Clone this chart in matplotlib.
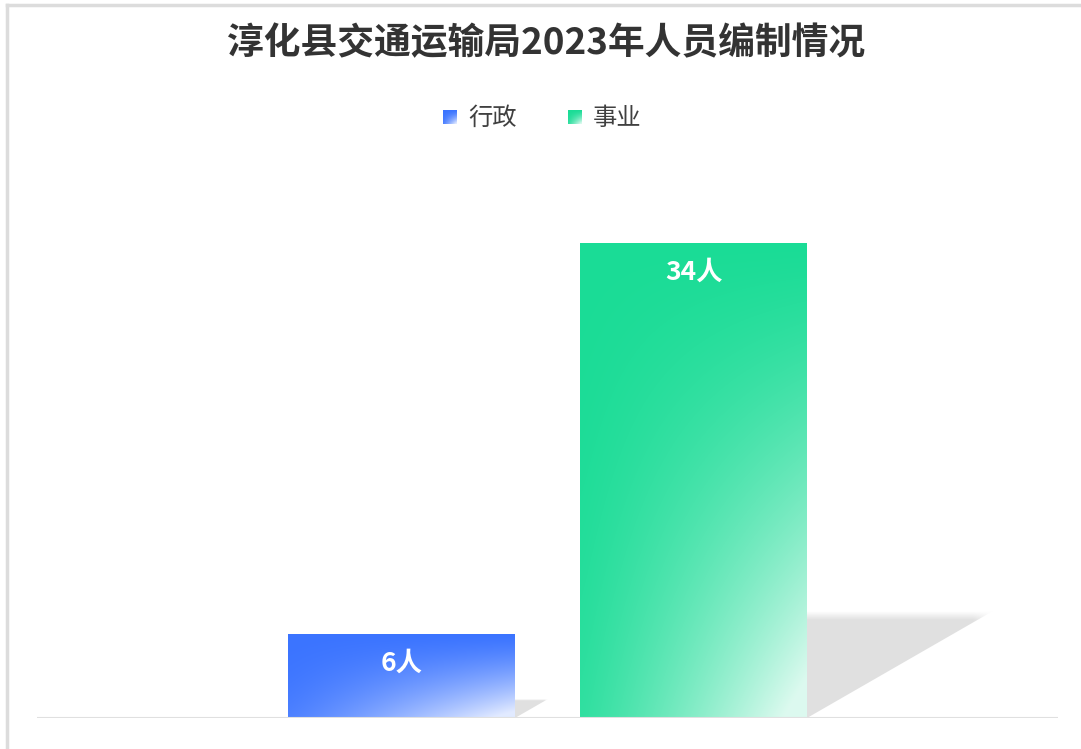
import numpy as np
import matplotlib
matplotlib.use("Agg")
import matplotlib.pyplot as plt
from matplotlib.patches import Polygon
from matplotlib.colors import to_rgb

plt.rcParams['font.family'] = ['Noto Sans CJK SC', 'DejaVu Sans']

# ---- data ----
title = "淳化县交通运输局2023年人员编制情况"
categories = ["行政", "事业"]
values = [6, 34]
labels = ["6人", "34人"]
colors = ["#3b74ff", "#1adc96"]

W, H = 1081, 749
fig = plt.figure(figsize=(W / 100, H / 100), dpi=100)
fig.patch.set_facecolor("white")

# main axes: pixel box x 37..1058, y (from top) 159..718
ax = fig.add_axes([37 / W, 1 - 718 / H, (1058 - 37) / W, (718 - 159) / H])
ax.set_xlim(-1.248, 2.248)
ax.set_ylim(0, 40)
ax.axis("off")
ax.axhline(0, color="#e0e0e0", lw=1.5, zorder=5)


def grad_img(base, n=200):
    yy, xx = np.mgrid[0:n, 0:n] / (n - 1)
    yf = 1 - yy  # 0 at top, 1 at bottom
    t = np.clip(0.85 * xx ** 1.2 * yf ** 1.3 + 0.1 * yf ** 2, 0, 0.85)
    b = np.array(to_rgb(base))
    img = b[None, None, :] * (1 - t[..., None]) + np.ones(3)[None, None, :] * t[..., None]
    return img


def shadow_img(n=200):
    yy, xx = np.mgrid[0:n, 0:n] / (n - 1)
    a = np.clip((1 - yy) / 0.08, 0, 1)  # fade at top edge
    a = a * np.clip((1 - xx) / 0.15 + 0.3, 0, 1)
    img = np.zeros((n, n, 4))
    img[..., :3] = 0.86
    img[..., 3] = a * 0.85
    return img


bars = ax.bar(range(len(categories)), values, width=0.777, color=colors, zorder=2)
for bar, v, c, lab in zip(bars, values, colors, labels):
    x0, w, h = bar.get_x(), bar.get_width(), bar.get_height()
    # shadow
    sw = 0.0187 * v
    sh = 0.225 * v
    shadow = Polygon([(x0 + w, 0), (x0 + w, sh), (x0 + w + sw, sh)],
                     closed=True, facecolor="none", edgecolor="none")
    ax.add_patch(shadow)
    sim = ax.imshow(shadow_img(), extent=(x0 + w, x0 + w + sw, 0, sh), origin="lower",
                    aspect="auto", zorder=1, interpolation="bilinear")
    sim.set_clip_path(shadow)
    im = ax.imshow(grad_img(c), extent=(x0, x0 + w, 0, h), origin="lower",
                   aspect="auto", zorder=3, interpolation="bilinear")
    im.set_clip_path(bar)
    ax.text(x0 + w / 2, h - 2.1, lab, ha="center", va="center", color="white",
            fontsize=19, fontweight="bold", zorder=6)

# overlay in pixel coordinates for frame
ov = fig.add_axes([0, 0, 1, 1], zorder=-1)
ov.set_xlim(0, W)
ov.set_ylim(H, 0)
ov.axis("off")
ov.plot([6.5, 6.5], [5, H], color="#dcdcdc", lw=2.5)
ov.plot([6.5, W], [5, 5], color="#dcdcdc", lw=2.5)

fig.text(546 / W, 1 - 44 / H, title, ha="center", va="center", fontsize=26.5,
         fontweight="bold", color="#333333")

leg_x = [443, 568]
for lx, c, cat in zip(leg_x, colors, categories):
    lax = fig.add_axes([lx / W, 1 - 124 / H, 14 / W, 14 / H])
    lax.imshow(grad_img(c, 50), extent=(0, 1, 0, 1), origin="lower", aspect="auto")
    lax.axis("off")
    fig.text((lx + 25) / W, 1 - 118 / H, cat, ha="left", va="center",
             fontsize=17.5, color="#404040")

fig.savefig("out.png", dpi=100)
